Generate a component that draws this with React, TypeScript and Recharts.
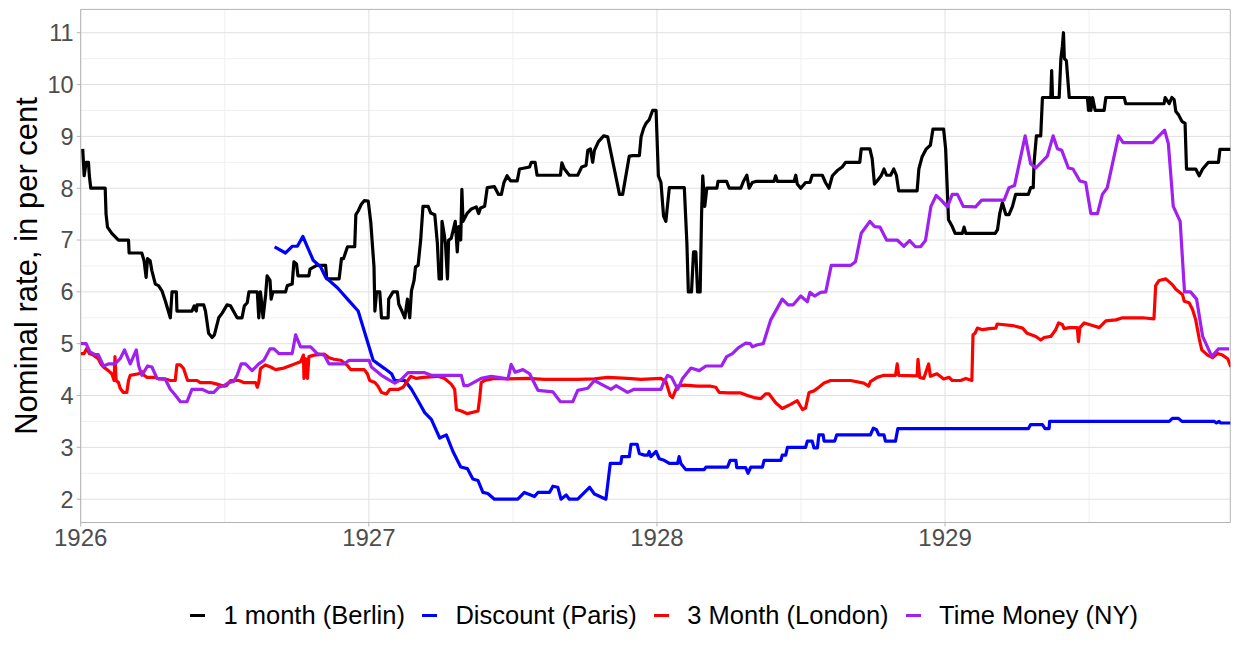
import React from 'react';
import { LineChart, Line, XAxis, YAxis, CartesianGrid, ReferenceArea } from 'recharts';

// [year, rate] pairs
const berlin: [number, number][] = [
  [1926.007, 8.76], [1926.012, 8.24], [1926.019, 8.5], [1926.027, 8.5], [1926.03, 8.24], [1926.035, 8.0],
  [1926.085, 8.0], [1926.088, 7.5], [1926.093, 7.25], [1926.108, 7.13], [1926.131, 7.0], [1926.166, 7.0],
  [1926.168, 6.75], [1926.212, 6.75], [1926.22, 6.6], [1926.227, 6.28], [1926.232, 6.64], [1926.241, 6.6],
  [1926.247, 6.41], [1926.259, 6.15], [1926.27, 6.12], [1926.282, 6.02], [1926.294, 5.82], [1926.311, 5.5],
  [1926.317, 6.0], [1926.332, 6.0], [1926.334, 5.63], [1926.386, 5.63], [1926.394, 5.73], [1926.401, 5.63],
  [1926.404, 5.75], [1926.427, 5.75], [1926.433, 5.63], [1926.444, 5.2], [1926.456, 5.12], [1926.464, 5.17],
  [1926.479, 5.5], [1926.491, 5.59], [1926.508, 5.75], [1926.52, 5.73], [1926.543, 5.5], [1926.56, 5.5],
  [1926.568, 5.73], [1926.578, 5.79], [1926.584, 6.0], [1926.613, 6.0], [1926.618, 5.5], [1926.624, 6.0],
  [1926.633, 5.5], [1926.642, 5.95], [1926.647, 6.31], [1926.657, 6.22], [1926.661, 5.86], [1926.667, 6.0],
  [1926.711, 6.0], [1926.717, 6.12], [1926.734, 6.15], [1926.74, 6.58], [1926.749, 6.54], [1926.754, 6.31],
  [1926.792, 6.31], [1926.796, 6.44], [1926.819, 6.51], [1926.85, 6.51], [1926.854, 6.25], [1926.897, 6.25],
  [1926.905, 6.64], [1926.912, 6.64], [1926.926, 6.87], [1926.951, 6.87], [1926.955, 7.49], [1926.963, 7.56],
  [1926.974, 7.69], [1926.984, 7.76], [1926.998, 7.75], [1927.007, 7.33], [1927.018, 6.48], [1927.021, 5.63],
  [1927.027, 6.0], [1927.038, 6.0], [1927.044, 5.5], [1927.067, 5.5], [1927.069, 5.86], [1927.084, 6.0],
  [1927.099, 6.0], [1927.104, 5.76], [1927.115, 5.63], [1927.125, 5.5], [1927.134, 5.86], [1927.142, 5.5],
  [1927.148, 6.02], [1927.157, 6.22], [1927.162, 6.48], [1927.171, 6.51], [1927.18, 7.0], [1927.188, 7.65],
  [1927.206, 7.65], [1927.215, 7.52], [1927.229, 7.49], [1927.238, 6.93], [1927.244, 6.25], [1927.252, 6.25],
  [1927.254, 7.36], [1927.261, 7.13], [1927.266, 6.93], [1927.273, 6.25], [1927.277, 7.0], [1927.286, 7.03],
  [1927.3, 7.36], [1927.307, 6.77], [1927.312, 7.26], [1927.319, 7.0], [1927.323, 7.98], [1927.327, 7.36],
  [1927.342, 7.52], [1927.356, 7.6], [1927.373, 7.64], [1927.381, 7.51], [1927.388, 7.62], [1927.402, 7.65],
  [1927.411, 8.01], [1927.436, 8.03], [1927.45, 7.88], [1927.46, 7.88], [1927.469, 8.11], [1927.48, 8.24],
  [1927.492, 8.14], [1927.515, 8.14], [1927.523, 8.37], [1927.558, 8.41], [1927.564, 8.5], [1927.577, 8.5],
  [1927.584, 8.25], [1927.665, 8.25], [1927.67, 8.49], [1927.679, 8.37], [1927.696, 8.25], [1927.725, 8.25],
  [1927.739, 8.41], [1927.754, 8.44], [1927.76, 8.73], [1927.769, 8.76], [1927.777, 8.5], [1927.783, 8.73],
  [1927.797, 8.9], [1927.815, 9.01], [1927.829, 8.99], [1927.852, 8.37], [1927.87, 7.88], [1927.881, 7.88],
  [1927.904, 8.62], [1927.916, 8.63], [1927.939, 8.63], [1927.945, 8.99], [1927.954, 9.16], [1927.962, 9.25],
  [1927.973, 9.32], [1927.985, 9.5], [1927.997, 9.5], [1928.005, 8.24], [1928.014, 8.11], [1928.023, 7.46],
  [1928.031, 7.36], [1928.043, 8.01], [1928.095, 8.01], [1928.104, 6.93], [1928.109, 6.0], [1928.12, 6.0],
  [1928.127, 6.77], [1928.135, 6.77], [1928.141, 6.0], [1928.15, 6.0], [1928.155, 7.52], [1928.159, 8.24],
  [1928.166, 7.65], [1928.173, 8.0], [1928.208, 8.0], [1928.212, 8.13], [1928.242, 8.13], [1928.251, 8.0],
  [1928.291, 8.0], [1928.3, 8.13], [1928.312, 8.25], [1928.32, 8.0], [1928.331, 8.11], [1928.343, 8.13],
  [1928.406, 8.13], [1928.412, 8.24], [1928.418, 8.13], [1928.476, 8.13], [1928.482, 8.25], [1928.487, 8.08],
  [1928.499, 8.0], [1928.516, 8.11], [1928.531, 8.11], [1928.539, 8.25], [1928.574, 8.25], [1928.585, 8.11],
  [1928.597, 8.0], [1928.609, 8.24], [1928.626, 8.34], [1928.643, 8.41], [1928.655, 8.5], [1928.704, 8.5],
  [1928.709, 8.76], [1928.739, 8.76], [1928.747, 8.57], [1928.755, 8.08], [1928.764, 8.14], [1928.778, 8.24],
  [1928.788, 8.37], [1928.797, 8.25], [1928.811, 8.25], [1928.822, 8.37], [1928.831, 8.25], [1928.839, 7.95],
  [1928.903, 7.95], [1928.909, 8.37], [1928.92, 8.6], [1928.935, 8.76], [1928.949, 8.83], [1928.958, 9.14],
  [1928.995, 9.14], [1929.002, 8.76], [1929.012, 7.39], [1929.025, 7.26], [1929.035, 7.13], [1929.06, 7.13],
  [1929.066, 7.25], [1929.072, 7.13], [1929.174, 7.13], [1929.182, 7.2], [1929.19, 7.52], [1929.199, 7.72],
  [1929.211, 7.49], [1929.222, 7.49], [1929.234, 7.65], [1929.245, 7.88], [1929.289, 7.88], [1929.297, 8.01],
  [1929.306, 8.01], [1929.309, 8.5], [1929.317, 9.01], [1929.332, 9.01], [1929.338, 9.75], [1929.367, 9.75],
  [1929.37, 10.27], [1929.373, 9.75], [1929.396, 9.75], [1929.402, 10.5], [1929.407, 10.73], [1929.411, 11.0],
  [1929.414, 10.5], [1929.421, 10.46], [1929.431, 9.75], [1929.494, 9.75], [1929.498, 9.5], [1929.502, 9.75],
  [1929.506, 9.5], [1929.512, 9.75], [1929.521, 9.5], [1929.552, 9.5], [1929.558, 9.75], [1929.622, 9.75],
  [1929.627, 9.63], [1929.76, 9.63], [1929.764, 9.75], [1929.778, 9.63], [1929.787, 9.75], [1929.795, 9.71],
  [1929.801, 9.48], [1929.81, 9.42], [1929.822, 9.29], [1929.833, 9.25], [1929.838, 8.37], [1929.87, 8.37],
  [1929.882, 8.24], [1929.894, 8.37], [1929.914, 8.5], [1929.949, 8.5], [1929.954, 8.75], [1929.992, 8.75],
];

const paris: [number, number][] = [
  [1926.673, 6.87], [1926.711, 6.75], [1926.734, 6.88], [1926.752, 6.88], [1926.771, 7.07], [1926.789, 6.84],
  [1926.807, 6.61], [1926.833, 6.48], [1926.85, 6.28], [1926.891, 6.08], [1926.926, 5.86], [1926.963, 5.63],
  [1927.015, 4.68], [1927.032, 4.61], [1927.055, 4.52], [1927.079, 4.42], [1927.09, 4.29], [1927.125, 4.29],
  [1927.148, 4.12], [1927.171, 3.9], [1927.194, 3.67], [1927.217, 3.54], [1927.246, 3.18], [1927.269, 3.24],
  [1927.292, 2.92], [1927.319, 2.62], [1927.342, 2.59], [1927.361, 2.39], [1927.379, 2.36], [1927.396, 2.13],
  [1927.413, 2.11], [1927.436, 2.0], [1927.517, 2.0], [1927.54, 2.13], [1927.575, 2.05], [1927.587, 2.13],
  [1927.627, 2.13], [1927.639, 2.25], [1927.656, 2.23], [1927.667, 2.0], [1927.685, 2.08], [1927.696, 2.0],
  [1927.725, 2.0], [1927.766, 2.23], [1927.783, 2.1], [1927.823, 2.0], [1927.838, 2.69], [1927.875, 2.69],
  [1927.878, 2.82], [1927.904, 2.82], [1927.91, 3.06], [1927.931, 3.06], [1927.939, 2.88], [1927.956, 2.85],
  [1927.968, 2.85], [1927.973, 2.92], [1927.979, 2.82], [1927.997, 2.92], [1928.008, 2.78], [1928.025, 2.75],
  [1928.043, 2.69], [1928.072, 2.69], [1928.077, 2.82], [1928.083, 2.69], [1928.1, 2.57], [1928.164, 2.57],
  [1928.17, 2.62], [1928.245, 2.62], [1928.254, 2.75], [1928.274, 2.75], [1928.277, 2.61], [1928.308, 2.61],
  [1928.316, 2.5], [1928.326, 2.62], [1928.366, 2.62], [1928.372, 2.75], [1928.43, 2.75], [1928.435, 2.85],
  [1928.447, 2.85], [1928.453, 3.0], [1928.516, 3.0], [1928.522, 3.12], [1928.539, 3.12], [1928.545, 2.99],
  [1928.557, 2.99], [1928.562, 3.24], [1928.577, 3.24], [1928.58, 3.12], [1928.617, 3.12], [1928.624, 3.24],
  [1928.741, 3.24], [1928.751, 3.37], [1928.762, 3.34], [1928.77, 3.24], [1928.788, 3.24], [1928.793, 3.12],
  [1928.828, 3.12], [1928.836, 3.36], [1929.289, 3.36], [1929.297, 3.44], [1929.338, 3.44], [1929.347, 3.36],
  [1929.361, 3.36], [1929.363, 3.5], [1929.778, 3.5], [1929.789, 3.56], [1929.81, 3.56], [1929.822, 3.5],
  [1929.934, 3.5], [1929.942, 3.47], [1929.951, 3.5], [1929.957, 3.47], [1929.992, 3.47],
];

const london: [number, number][] = [
  [1926.0, 4.81], [1926.012, 4.81], [1926.021, 4.91], [1926.03, 4.81], [1926.044, 4.78], [1926.061, 4.71],
  [1926.07, 4.61], [1926.079, 4.55], [1926.096, 4.48], [1926.108, 4.42], [1926.116, 4.29], [1926.119, 4.75],
  [1926.123, 4.29], [1926.131, 4.25], [1926.137, 4.14], [1926.148, 4.06], [1926.16, 4.06], [1926.166, 4.29],
  [1926.172, 4.39], [1926.201, 4.42], [1926.212, 4.46], [1926.22, 4.39], [1926.23, 4.35], [1926.259, 4.35],
  [1926.27, 4.32], [1926.294, 4.32], [1926.311, 4.29], [1926.328, 4.29], [1926.334, 4.59], [1926.346, 4.59],
  [1926.357, 4.52], [1926.371, 4.29], [1926.404, 4.29], [1926.415, 4.25], [1926.45, 4.25], [1926.473, 4.22],
  [1926.499, 4.18], [1926.508, 4.2], [1926.52, 4.29], [1926.549, 4.29], [1926.566, 4.25], [1926.607, 4.25],
  [1926.613, 4.16], [1926.618, 4.25], [1926.624, 4.52], [1926.641, 4.59], [1926.659, 4.55], [1926.676, 4.5],
  [1926.705, 4.53], [1926.729, 4.58], [1926.752, 4.63], [1926.763, 4.65], [1926.773, 4.78], [1926.775, 4.33],
  [1926.781, 4.71], [1926.787, 4.33], [1926.792, 4.75], [1926.81, 4.78], [1926.845, 4.8], [1926.862, 4.73],
  [1926.879, 4.7], [1926.903, 4.68], [1926.926, 4.58], [1926.937, 4.5], [1926.984, 4.5], [1926.995, 4.42],
  [1927.003, 4.29], [1927.021, 4.25], [1927.032, 4.18], [1927.044, 4.06], [1927.061, 4.03], [1927.073, 4.12],
  [1927.104, 4.12], [1927.119, 4.16], [1927.13, 4.25], [1927.145, 4.37], [1927.165, 4.33], [1927.188, 4.35],
  [1927.24, 4.37], [1927.263, 4.33], [1927.286, 4.22], [1927.298, 4.12], [1927.304, 3.73], [1927.321, 3.7],
  [1927.342, 3.65], [1927.379, 3.7], [1927.385, 3.96], [1927.39, 4.25], [1927.402, 4.29], [1927.436, 4.33],
  [1927.483, 4.32], [1927.552, 4.33], [1927.61, 4.31], [1927.725, 4.31], [1927.783, 4.32], [1927.829, 4.35],
  [1927.898, 4.33], [1927.945, 4.31], [1928.014, 4.33], [1928.031, 4.27], [1928.046, 4.0], [1928.054, 3.96],
  [1928.066, 4.12], [1928.072, 4.18], [1928.095, 4.2], [1928.141, 4.18], [1928.187, 4.18], [1928.204, 4.16],
  [1928.216, 4.06], [1928.245, 4.05], [1928.291, 4.05], [1928.314, 4.0], [1928.337, 3.96], [1928.36, 3.94],
  [1928.377, 4.03], [1928.389, 4.03], [1928.412, 3.86], [1928.435, 3.75], [1928.464, 3.83], [1928.487, 3.9],
  [1928.505, 3.73], [1928.516, 3.76], [1928.528, 4.06], [1928.545, 4.09], [1928.562, 4.16], [1928.58, 4.24],
  [1928.603, 4.29], [1928.672, 4.29], [1928.718, 4.24], [1928.735, 4.18], [1928.741, 4.27], [1928.764, 4.35],
  [1928.788, 4.39], [1928.828, 4.39], [1928.834, 4.61], [1928.839, 4.39], [1928.903, 4.38], [1928.906, 4.7],
  [1928.912, 4.35], [1928.926, 4.33], [1928.943, 4.61], [1928.949, 4.37], [1928.972, 4.42], [1928.995, 4.32],
  [1929.014, 4.35], [1929.025, 4.29], [1929.054, 4.29], [1929.072, 4.33], [1929.093, 4.29], [1929.097, 5.17],
  [1929.104, 5.2], [1929.112, 5.3], [1929.13, 5.27], [1929.153, 5.29], [1929.176, 5.3], [1929.181, 5.38],
  [1929.234, 5.35], [1929.269, 5.3], [1929.285, 5.2], [1929.315, 5.14], [1929.332, 5.07], [1929.344, 5.12],
  [1929.367, 5.14], [1929.384, 5.27], [1929.394, 5.4], [1929.407, 5.37], [1929.413, 5.29], [1929.431, 5.31],
  [1929.459, 5.31], [1929.463, 5.04], [1929.468, 5.31], [1929.483, 5.4], [1929.512, 5.35], [1929.535, 5.31],
  [1929.558, 5.44], [1929.593, 5.46], [1929.616, 5.5], [1929.685, 5.5], [1929.725, 5.48], [1929.731, 6.12],
  [1929.743, 6.22], [1929.766, 6.25], [1929.789, 6.14], [1929.801, 6.05], [1929.824, 5.95], [1929.83, 5.82],
  [1929.847, 5.79], [1929.859, 5.66], [1929.87, 5.46], [1929.882, 5.1], [1929.891, 4.88], [1929.911, 4.78],
  [1929.928, 4.73], [1929.946, 4.81], [1929.963, 4.78], [1929.981, 4.71], [1929.992, 4.55],
];

const newYork: [number, number][] = [
  [1926.0, 5.0], [1926.019, 5.0], [1926.032, 4.84], [1926.05, 4.79], [1926.061, 4.79], [1926.079, 4.57],
  [1926.096, 4.61], [1926.119, 4.61], [1926.137, 4.71], [1926.152, 4.88], [1926.172, 4.61], [1926.193, 4.88],
  [1926.201, 4.58], [1926.212, 4.39], [1926.232, 4.57], [1926.247, 4.55], [1926.265, 4.33], [1926.294, 4.31],
  [1926.311, 4.12], [1926.328, 4.01], [1926.346, 3.88], [1926.369, 3.88], [1926.386, 4.12], [1926.421, 4.12],
  [1926.444, 4.06], [1926.462, 4.06], [1926.479, 4.16], [1926.497, 4.19], [1926.514, 4.25], [1926.531, 4.27],
  [1926.543, 4.39], [1926.557, 4.61], [1926.572, 4.61], [1926.595, 4.48], [1926.618, 4.61], [1926.636, 4.68],
  [1926.657, 4.9], [1926.671, 4.9], [1926.688, 4.81], [1926.734, 4.81], [1926.746, 5.17], [1926.763, 4.94],
  [1926.798, 4.94], [1926.821, 4.81], [1926.845, 4.78], [1926.862, 4.61], [1926.914, 4.61], [1926.932, 4.68],
  [1927.001, 4.68], [1927.009, 4.55], [1927.044, 4.39], [1927.067, 4.31], [1927.09, 4.24], [1927.113, 4.31],
  [1927.136, 4.44], [1927.194, 4.44], [1927.217, 4.39], [1927.321, 4.39], [1927.33, 4.19], [1927.344, 4.19],
  [1927.39, 4.33], [1927.425, 4.37], [1927.483, 4.32], [1927.494, 4.6], [1927.508, 4.45], [1927.535, 4.5],
  [1927.558, 4.42], [1927.587, 4.1], [1927.639, 4.07], [1927.665, 3.88], [1927.708, 3.88], [1927.725, 4.1],
  [1927.76, 4.14], [1927.783, 4.29], [1927.806, 4.22], [1927.841, 4.12], [1927.858, 4.19], [1927.898, 4.06],
  [1927.921, 4.12], [1928.014, 4.12], [1928.023, 4.25], [1928.037, 4.39], [1928.051, 4.35], [1928.072, 4.12],
  [1928.089, 4.33], [1928.118, 4.53], [1928.147, 4.48], [1928.17, 4.57], [1928.224, 4.57], [1928.242, 4.75],
  [1928.262, 4.81], [1928.282, 4.92], [1928.308, 5.01], [1928.324, 5.0], [1928.331, 4.94], [1928.349, 4.98],
  [1928.369, 5.0], [1928.395, 5.46], [1928.435, 5.86], [1928.455, 5.75], [1928.473, 5.75], [1928.499, 5.92],
  [1928.522, 5.81], [1928.531, 5.99], [1928.547, 5.92], [1928.568, 5.99], [1928.586, 6.0], [1928.605, 6.51],
  [1928.672, 6.51], [1928.689, 6.58], [1928.709, 7.13], [1928.739, 7.36], [1928.755, 7.26], [1928.774, 7.25],
  [1928.797, 7.0], [1928.834, 7.0], [1928.857, 6.88], [1928.877, 6.99], [1928.897, 6.87], [1928.915, 6.87],
  [1928.932, 6.99], [1928.951, 7.65], [1928.969, 7.86], [1928.985, 7.78], [1929.008, 7.64], [1929.025, 7.88],
  [1929.043, 7.88], [1929.063, 7.65], [1929.106, 7.64], [1929.127, 7.77], [1929.205, 7.77], [1929.222, 8.01],
  [1929.241, 8.05], [1929.278, 9.01], [1929.297, 8.47], [1929.315, 8.39], [1929.355, 8.62], [1929.375, 9.01],
  [1929.39, 8.76], [1929.405, 8.73], [1929.428, 8.39], [1929.444, 8.37], [1929.468, 8.14], [1929.488, 8.11],
  [1929.506, 7.51], [1929.529, 7.51], [1929.546, 7.88], [1929.563, 8.01], [1929.602, 9.01], [1929.618, 8.88],
  [1929.72, 8.88], [1929.762, 9.12], [1929.775, 8.86], [1929.792, 7.65], [1929.816, 7.36], [1929.831, 6.0],
  [1929.852, 6.0], [1929.873, 5.86], [1929.894, 5.14], [1929.926, 4.75], [1929.949, 4.9], [1929.986, 4.9],
];

const seriesNames = ['1 month (Berlin)', 'Discount (Paris)', '3 Month (London)', 'Time Money (NY)'];
const seriesColors = ['#000000', '#0000FF', '#FF0000', '#A020F0'];
const seriesValues = [berlin, paris, london, newYork];

const xDomain: [number, number] = [1926, 1929.99];
const yDomain: [number, number] = [1.55, 11.45];
const xTicks = [1926, 1927, 1928, 1929];
const xMinor = [1926.5, 1927.5, 1928.5, 1929.5];
const yTicks = [2, 3, 4, 5, 6, 7, 8, 9, 10, 11];
const yMinor = [2.5, 3.5, 4.5, 5.5, 6.5, 7.5, 8.5, 9.5, 10.5];
const yTitle = 'Nominal rate, in per cent';

const FONT = '"Liberation Sans", Arial, Helvetica, sans-serif';

const YTitle = (props: any) => {
  const vb = props.viewBox || { y: 9.4, height: 513 };
  const cy = vb.y + vb.height / 2;
  const cx = 36.7;
  return (
    <text
      x={cx}
      y={cy}
      transform={`rotate(-90, ${cx}, ${cy})`}
      textAnchor="middle"
      fontSize={31}
      fontFamily={FONT}
      fill="#000000"
    >
      {yTitle}
    </text>
  );
};

export default function App() {
  const series = seriesNames.map((name, i) => ({
    name,
    color: seriesColors[i],
    data: seriesValues[i].map(([x, y]) => ({ x, y })),
  }));

  return (
    <div
      style={{
        position: 'absolute',
        left: 0,
        top: 0,
        width: 1235,
        height: 645,
        background: '#FFFFFF',
        fontFamily: FONT,
      }}
    >
      <LineChart width={1235} height={645} margin={{ top: 9.4, right: 4.7, bottom: 82.5, left: 0.7 }}>
        <CartesianGrid
          horizontalValues={yMinor}
          verticalValues={xMinor}
          stroke="#F0F0F0"
          strokeWidth={1}
        />
        <CartesianGrid
          horizontalValues={yTicks}
          verticalValues={xTicks}
          stroke="#E0E0E0"
          strokeWidth={1}
        />
        <XAxis
          dataKey="x"
          type="number"
          domain={xDomain}
          ticks={xTicks}
          allowDataOverflow
          height={40}
          axisLine={false}
          tickSize={4}
          tickMargin={2.5}
          tickLine={{ stroke: '#B3B3B3' }}
          tick={{ fill: '#4D4D4D', fontSize: 24, fontFamily: FONT }}
        />
        <YAxis
          dataKey="y"
          type="number"
          domain={yDomain}
          ticks={yTicks}
          allowDataOverflow
          width={80}
          axisLine={false}
          tickSize={4}
          tickMargin={3}
          tickLine={{ stroke: '#B3B3B3' }}
          tick={{ fill: '#4D4D4D', fontSize: 23.5, fontFamily: FONT }}
          label={<YTitle />}
        />
        {series.map((s) => (
          <Line
            key={s.name}
            data={s.data}
            dataKey="y"
            name={s.name}
            type="linear"
            stroke={s.color}
            strokeWidth={3.2}
            strokeLinejoin="round"
            dot={false}
            activeDot={false}
            isAnimationActive={false}
          />
        ))}
        <ReferenceArea
          x1={xDomain[0]}
          x2={xDomain[1]}
          y1={yDomain[0]}
          y2={yDomain[1]}
          fill="none"
          stroke="#B3B3B3"
          strokeWidth={1}
          ifOverflow="visible"
        />
      </LineChart>
      <div
        style={{
          position: 'absolute',
          left: 190,
          top: 600,
          height: 30,
          display: 'flex',
          alignItems: 'center',
          whiteSpace: 'nowrap',
        }}
      >
        {series.map((s) => (
          <div key={s.name} style={{ display: 'flex', alignItems: 'center', marginRight: 17 }}>
            <span style={{ display: 'inline-block', width: 15, height: 3, background: s.color, marginRight: 18.5 }} />
            <span style={{ fontSize: 25.5, color: '#000000', lineHeight: '30px' }}>{s.name}</span>
          </div>
        ))}
      </div>
    </div>
  );
}
